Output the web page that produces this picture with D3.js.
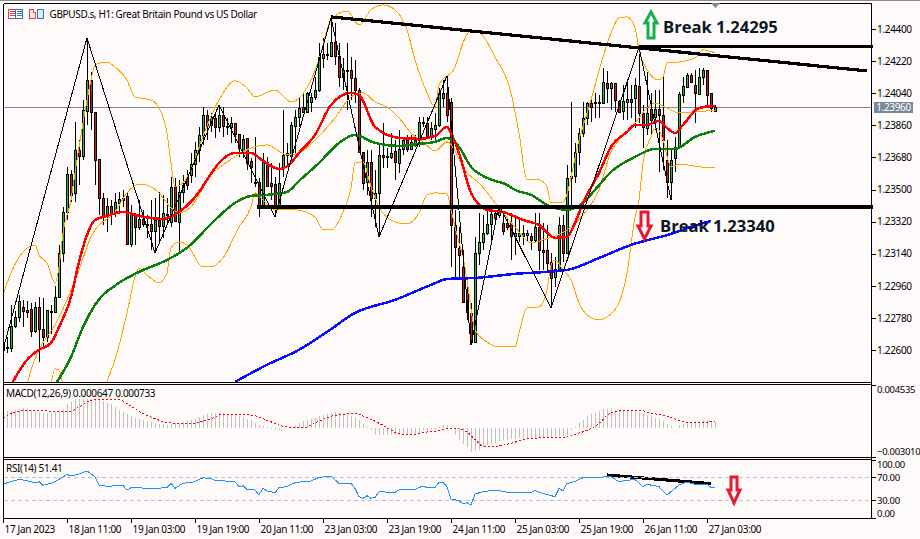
<!DOCTYPE html>
<html>
<head>
  <meta charset="utf-8">
  <title>GBPUSD.s H1</title>
  <style>
    html,body{margin:0;padding:0;background:#fffafa;}
    svg{display:block;}
    text{font-family:"Noto Sans",sans-serif;font-size:10px;letter-spacing:-0.33px;fill:#000;}
    .axis text{font-family:"Noto Sans",sans-serif;font-size:10px;}
    .macdAxis text,.rsiAxis text{font-size:9.5px;letter-spacing:-0.3px;}
    .axis path{display:none;}
    .axis line{stroke:#000;shape-rendering:crispEdges;}
    .break{font-family:"Open Sans",sans-serif;font-weight:700;font-size:16.6px;letter-spacing:0;fill:#0b1722;}
  </style>
  <script src="https://d3js.org/d3.v7.min.js"></script>
</head>
<body>
<script>
// candles, one entry per hourly bar
var opens=[1.22601,1.22617,1.22612,1.22735,1.22786,1.22842,1.22825,1.22830,1.22707,1.22842,1.22718,1.22673,1.22819,1.22814,1.22898,1.23144,1.23374,1.23587,1.23481,1.23722,1.23688,1.23941,1.24114,1.23935,1.23672,1.23453,1.23357,1.23408,1.23369,1.23425,1.23453,1.23464,1.23195,1.23357,1.23290,1.23335,1.23307,1.23307,1.23268,1.23329,1.23296,1.23363,1.23318,1.23515,1.23318,1.23486,1.23571,1.23582,1.23643,1.23722,1.23806,1.23918,1.23862,1.23901,1.23851,1.23918,1.23856,1.23851,1.23873,1.23812,1.23711,1.23789,1.23660,1.23543,1.23543,1.23402,1.23655,1.23537,1.23531,1.23402,1.23621,1.23694,1.23688,1.23856,1.23907,1.23963,1.23935,1.23991,1.24019,1.24058,1.24238,1.24260,1.24249,1.24327,1.24249,1.24131,1.24171,1.24171,1.24126,1.24058,1.23711,1.23543,1.23655,1.23453,1.23481,1.23694,1.23688,1.23683,1.23716,1.23649,1.23728,1.23778,1.23728,1.23750,1.23778,1.23879,1.23873,1.23800,1.23840,1.23862,1.24014,1.24042,1.23991,1.23301,1.23173,1.23066,1.22920,1.22808,1.22645,1.23144,1.23206,1.23257,1.23307,1.23369,1.23357,1.23313,1.23313,1.23313,1.23240,1.23240,1.23240,1.23245,1.23240,1.23217,1.23290,1.23161,1.23161,1.23094,1.23010,1.23055,1.23301,1.23144,1.23565,1.23576,1.23711,1.23817,1.23901,1.23985,1.23991,1.23985,1.23985,1.24098,1.24070,1.24098,1.23997,1.23941,1.23991,1.24008,1.24014,1.24081,1.23929,1.23845,1.23952,1.23907,1.23952,1.23918,1.23666,1.23543,1.23677,1.23739,1.24030,1.24075,1.24142,1.24086,1.24036,1.24131,1.24171,1.24042,1.23941];
var highs=[1.22685,1.22673,1.22853,1.22819,1.22909,1.22881,1.22875,1.22864,1.22870,1.22898,1.22892,1.22825,1.22853,1.22959,1.23189,1.23402,1.23627,1.23610,1.23879,1.23778,1.24002,1.24350,1.24159,1.23935,1.23672,1.23481,1.23453,1.23442,1.23481,1.23486,1.23498,1.23481,1.23414,1.23369,1.23442,1.23386,1.23357,1.23442,1.23453,1.23486,1.23470,1.23453,1.23571,1.23565,1.23554,1.23582,1.23610,1.23705,1.23767,1.23851,1.23963,1.23946,1.23929,1.23929,1.23974,1.23963,1.23901,1.23907,1.23873,1.23812,1.23806,1.23789,1.23677,1.23795,1.23565,1.23705,1.23683,1.23649,1.23571,1.23649,1.23946,1.23761,1.23879,1.23946,1.24019,1.24042,1.24047,1.24042,1.24131,1.24322,1.24350,1.24322,1.24462,1.24434,1.24322,1.24238,1.24322,1.24243,1.24227,1.24070,1.23711,1.23722,1.23722,1.23610,1.23750,1.23873,1.23733,1.23817,1.23778,1.23834,1.23789,1.23806,1.23806,1.23806,1.23907,1.23907,1.23907,1.23879,1.23929,1.24070,1.24114,1.24137,1.24014,1.23386,1.23290,1.23161,1.22976,1.22864,1.23234,1.23369,1.23357,1.23386,1.23386,1.23386,1.23414,1.23374,1.23346,1.23369,1.23346,1.23329,1.23301,1.23273,1.23257,1.23369,1.23369,1.23313,1.23301,1.23144,1.23122,1.23346,1.23357,1.23638,1.23991,1.23761,1.23845,1.23991,1.23991,1.24002,1.24042,1.24030,1.24182,1.24165,1.24103,1.24098,1.24002,1.24086,1.24114,1.24086,1.24126,1.24299,1.23974,1.24159,1.24042,1.24058,1.24058,1.24142,1.23778,1.23733,1.23795,1.24047,1.24131,1.24154,1.24154,1.24171,1.24182,1.24182,1.24171,1.24042,1.23974];
var lows=[1.22573,1.22584,1.22589,1.22724,1.22758,1.22729,1.22780,1.22673,1.22696,1.22533,1.22612,1.22645,1.22690,1.22808,1.22892,1.23094,1.23329,1.23430,1.23430,1.23526,1.23666,1.23862,1.23834,1.23526,1.23357,1.23301,1.23262,1.23301,1.23346,1.23374,1.23402,1.23195,1.23178,1.23189,1.23273,1.23290,1.23229,1.23161,1.23144,1.23201,1.23229,1.23301,1.23290,1.23318,1.23144,1.23425,1.23498,1.23537,1.23571,1.23655,1.23750,1.23778,1.23823,1.23789,1.23823,1.23795,1.23806,1.23761,1.23761,1.23683,1.23677,1.23610,1.23537,1.23515,1.23346,1.23397,1.23515,1.23442,1.23346,1.23397,1.23571,1.23638,1.23683,1.23705,1.23851,1.23929,1.23929,1.23935,1.24002,1.24047,1.24182,1.24227,1.24243,1.24199,1.24075,1.24058,1.23946,1.24002,1.23985,1.23705,1.23498,1.23470,1.23346,1.23290,1.23234,1.23621,1.23621,1.23672,1.23554,1.23593,1.23694,1.23711,1.23722,1.23739,1.23739,1.23851,1.23795,1.23778,1.23778,1.23851,1.23963,1.23879,1.23066,1.23010,1.23010,1.22864,1.22769,1.22629,1.22640,1.23077,1.23161,1.23245,1.23206,1.23329,1.23341,1.23245,1.23273,1.23105,1.23133,1.23206,1.23189,1.23206,1.23161,1.23206,1.23049,1.23049,1.23032,1.22836,1.22954,1.23049,1.23094,1.23144,1.23402,1.23537,1.23638,1.23795,1.23862,1.23879,1.23901,1.23901,1.23985,1.23985,1.23946,1.23935,1.23929,1.23890,1.23890,1.23901,1.23845,1.23873,1.23733,1.23806,1.23795,1.23834,1.23599,1.23610,1.23453,1.23442,1.23599,1.23739,1.23985,1.24075,1.24098,1.23873,1.24030,1.24086,1.23974,1.23935,1.23935];
var closes=[1.22629,1.22612,1.22735,1.22786,1.22875,1.22819,1.22814,1.22707,1.22842,1.22718,1.22673,1.22825,1.22814,1.22898,1.23144,1.23374,1.23587,1.23470,1.23722,1.23688,1.23946,1.24114,1.23935,1.23666,1.23453,1.23357,1.23408,1.23363,1.23430,1.23447,1.23442,1.23195,1.23363,1.23290,1.23335,1.23307,1.23301,1.23268,1.23329,1.23296,1.23369,1.23357,1.23515,1.23324,1.23486,1.23526,1.23526,1.23643,1.23722,1.23806,1.23918,1.23862,1.23907,1.23851,1.23918,1.23856,1.23851,1.23873,1.23812,1.23733,1.23784,1.23649,1.23627,1.23537,1.23397,1.23655,1.23520,1.23520,1.23397,1.23537,1.23694,1.23705,1.23862,1.23907,1.23957,1.23935,1.24042,1.24019,1.24058,1.24243,1.24260,1.24255,1.24327,1.24249,1.24131,1.24171,1.24165,1.24126,1.24058,1.23711,1.23537,1.23655,1.23453,1.23481,1.23694,1.23683,1.23683,1.23705,1.23655,1.23728,1.23778,1.23728,1.23767,1.23778,1.23879,1.23873,1.23800,1.23845,1.23862,1.24042,1.24042,1.23918,1.23301,1.23178,1.23133,1.22870,1.22814,1.22645,1.23144,1.23206,1.23257,1.23307,1.23363,1.23341,1.23386,1.23268,1.23290,1.23240,1.23257,1.23257,1.23257,1.23257,1.23217,1.23290,1.23161,1.23150,1.23088,1.23004,1.23055,1.23301,1.23144,1.23565,1.23576,1.23711,1.23817,1.23901,1.23985,1.23963,1.23985,1.23991,1.24103,1.24070,1.24098,1.24002,1.23935,1.23997,1.24008,1.23991,1.24086,1.23929,1.23851,1.23929,1.23890,1.23952,1.23918,1.23778,1.23543,1.23666,1.23739,1.24036,1.24081,1.24142,1.24103,1.24042,1.24131,1.24171,1.24030,1.23957,1.23963];

// moving averages and bollinger bands, read at the bars where the curves bend
var redBars=[2,6,9,12,14,17,19,21,23,26,30,34,40,44,49,51,54,58,62,65,69,72,74,78,82,87,89,93,99,104,108,111,112,114,117,119,121,125,130,134,138,141,143,145,149,152,156,158,161,164,166,168,170,174,178];
var redVals=[1.22404,1.22545,1.22601,1.22640,1.22729,1.22898,1.23094,1.23245,1.23329,1.23352,1.23374,1.23352,1.23335,1.23374,1.23486,1.23554,1.23649,1.23705,1.23705,1.23660,1.23615,1.23649,1.23705,1.23806,1.23974,1.24042,1.24030,1.23851,1.23789,1.23784,1.23800,1.23851,1.23817,1.23705,1.23481,1.23414,1.23386,1.23374,1.23329,1.23301,1.23229,1.23234,1.23313,1.23425,1.23593,1.23739,1.23823,1.23862,1.23862,1.23885,1.23845,1.23817,1.23862,1.23957,1.23969];
var greenBars=[13,17,20,23,29,34,41,46,53,58,62,66,71,74,79,84,88,93,99,104,108,111,114,117,121,126,128,132,137,141,145,148,152,158,163,168,173,178];
var greenVals=[1.22404,1.22561,1.22729,1.22853,1.22976,1.23038,1.23105,1.23173,1.23329,1.23425,1.23464,1.23470,1.23486,1.23548,1.23649,1.23761,1.23806,1.23761,1.23744,1.23756,1.23767,1.23789,1.23739,1.23627,1.23565,1.23526,1.23498,1.23470,1.23402,1.23386,1.23425,1.23498,1.23599,1.23683,1.23728,1.23728,1.23795,1.23829];
var blueBars=[58,66,74,81,88,98,107,111,118,128,141,149,157,167,172,177];
var blueVals=[1.22421,1.22517,1.22601,1.22701,1.22808,1.22881,1.22965,1.22998,1.23004,1.23027,1.23049,1.23116,1.23189,1.23251,1.23290,1.23324];
var upperBars=[0,2,5,7,8,9,11,13,14,15,17,18,20,22,23,26,28,31,33,37,39,41,42,43,47,49,54,58,61,63,68,72,76,79,82,86,89,92,95,98,101,103,106,108,109,113,115,117,119,123,127,129,131,134,136,137,140,144,147,150,152,154,156,158,159,161,164,165,166,169,173,175,178];
var upperVals=[1.22909,1.23032,1.23150,1.23184,1.23189,1.23133,1.23088,1.22976,1.23066,1.23257,1.23442,1.23593,1.23873,1.24114,1.24199,1.24215,1.24187,1.24114,1.24019,1.24002,1.23957,1.23817,1.23649,1.23515,1.23610,1.23739,1.24002,1.24109,1.24070,1.24019,1.24058,1.23991,1.24070,1.24227,1.24451,1.24501,1.24423,1.24507,1.24535,1.24507,1.24395,1.24227,1.24042,1.23963,1.24086,1.24187,1.24322,1.24395,1.24384,1.24243,1.24042,1.23817,1.23554,1.23554,1.23515,1.23425,1.23430,1.23778,1.24002,1.24243,1.24378,1.24462,1.24468,1.24406,1.24283,1.24171,1.24114,1.24131,1.24210,1.24215,1.24238,1.24283,1.24266];
var middleBars=[6,7,9,13,16,19,22,23,28,31,34,37,39,42,44,47,49,52,55,60,62,66,71,74,78,83,87,90,93,96,99,102,105,108,111,116,119,124,128,132,135,141,145,149,152,154,158,161,163,166,169,178];
var middleVals=[1.22404,1.22489,1.22601,1.22741,1.22881,1.23049,1.23234,1.23273,1.23374,1.23481,1.23531,1.23515,1.23481,1.23397,1.23369,1.23402,1.23470,1.23582,1.23638,1.23711,1.23733,1.23750,1.23694,1.23705,1.23778,1.23901,1.24019,1.24042,1.23991,1.23963,1.23901,1.23817,1.23767,1.23716,1.23767,1.23593,1.23537,1.23397,1.23290,1.23201,1.23217,1.23273,1.23357,1.23498,1.23711,1.23778,1.23873,1.23957,1.23985,1.23957,1.23929,1.23946];
var lowerBars=[12,13,14,15,16,25,26,28,31,33,34,36,39,41,42,44,46,50,52,55,59,62,63,65,68,73,78,80,82,85,87,88,90,92,94,98,101,104,106,108,111,112,114,115,116,118,121,124,128,129,131,134,136,137,138,140,142,144,146,149,151,154,156,158,159,160,162,163,164,165,167,169,174,178];
var lowerVals=[1.22404,1.22494,1.22489,1.22404,1.22348,1.22348,1.22421,1.22545,1.22808,1.23010,1.23060,1.23021,1.22976,1.23032,1.23173,1.23206,1.23189,1.23066,1.23066,1.23116,1.23290,1.23402,1.23481,1.23442,1.23386,1.23386,1.23346,1.23273,1.23273,1.23374,1.23509,1.23649,1.23655,1.23515,1.23402,1.23318,1.23307,1.23369,1.23470,1.23481,1.23475,1.23386,1.23201,1.23122,1.22993,1.22713,1.22645,1.22617,1.22617,1.22696,1.22836,1.22842,1.22937,1.23077,1.23105,1.23049,1.22993,1.22864,1.22797,1.22769,1.22786,1.22864,1.23032,1.23346,1.23442,1.23649,1.23795,1.23845,1.23834,1.23778,1.23627,1.23643,1.23627,1.23621];
// zigzag through the swing highs and lows
var zigBars=[0,21,38,54,68,82,94,111,117,124,137,159,167];
var zigVals=[1.22601,1.24350,1.23144,1.23974,1.23346,1.24462,1.23234,1.24137,1.22629,1.23414,1.22836,1.24299,1.23442];

// macd histogram per bar, signal read at its bends
var macdHist=[.001231,.001794,.001794,.001934,.002040,.002075,.002040,.001864,.001759,.001688,.001618,.001583,.001583,.001653,.001864,.002040,.002497,.002743,.003025,.003025,.003025,.003025,.003025,.003025,.003025,.002849,.002638,.002497,.002216,.001934,.001688,.001442,.001266,.001090,.000914,.000809,.000739,.000598,.000528,.000422,.000387,.000352,.000457,.000492,.000528,.000633,.000703,.000809,.000985,.001161,.001336,.001477,.001547,.001583,.001618,.001547,.001512,.001407,.001407,.001301,.001161,.000985,.000809,.000528,.000352,.000211,.000106,-.000070,-.000176,-.000176,.000010,.000035,.000176,.000281,.000563,.000739,.000879,.000950,.001020,.001266,.001407,.001512,.001618,.001653,.001618,.001512,.001407,.001231,.001055,.000809,.000457,.000106,-.000246,-.000703,-.000703,-.000703,-.000774,-.000774,-.000774,-.000774,-.000703,-.000703,-.000668,-.000598,-.000492,-.000246,-.000246,-.000246,-.000246,.000106,.000281,.000281,.000010,-.000774,-.001231,-.001653,-.002005,-.002532,-.002427,-.002286,-.002005,-.001829,-.001653,-.001547,-.001407,-.001301,-.001231,-.001196,-.001161,-.001055,-.001020,-.001020,-.001020,-.001020,-.001020,-.001020,-.000950,-.000950,-.000879,-.000879,-.000879,-.000774,-.000246,.000106,.000633,.000879,.001231,.001442,.001618,.001794,.001970,.002040,.002040,.001934,.001864,.001864,.001794,.001794,.001794,.001688,.001512,.001336,.001231,.001090,.000914,.000739,.000457,.000176,.000035,.000281,.000457,.000528,.000633,.000703,.000739,.000844,.000809,.000739,.000647];
var signalBars=[0,2,4,6,10,13,17,19,22,24,27,29,32,35,38,41,46,49,52,55,62,66,71,75,79,83,88,91,95,99,102,106,108,110,113,116,118,120,123,126,129,131,136,141,143,146,149,151,154,159,162,166,169,171,174,178];
var signalVals=[.000985,.001512,.001759,.001829,.001829,.001723,.001794,.002216,.002919,.003025,.003025,.002989,.002286,.001512,.000985,.000563,.000457,.000598,.000985,.001442,.001372,.000809,.000106,.000035,.000739,.001336,.001512,.001090,.000281,-.000598,-.000703,-.000422,-.000352,-.000141,-.000070,-.000422,-.001231,-.001899,-.001934,-.001723,-.001372,-.001125,-.001020,-.000950,-.000668,-.000246,.000457,.001336,.001794,.001864,.001583,.001231,.000809,.000563,.000563,.000733];

// rsi read at its bends
var rsiBars=[0,2,4,6,8,9,10,12,14,16,17,19,21,23,24,26,30,31,32,34,37,41,42,43,45,48,50,52,53,58,59,60,61,63,64,65,66,68,69,71,73,76,77,79,82,84,87,88,89,90,91,92,93,94,97,98,99,103,105,106,108,109,110,111,112,114,115,116,117,118,120,123,124,125,127,132,133,135,138,139,140,141,143,145,150,152,154,155,158,160,161,164,166,169,171,173,176,177,178];
var rsiVals=[58.2,62.3,66.3,64,60.5,62.3,55.9,59.4,66.3,75,72.1,75.6,80.8,71,56.5,54.2,55.9,47.8,51.9,51.9,49.5,52.4,59.4,50.7,59.4,62.3,69.2,67.5,64.6,62.3,53.6,55.3,48.9,47.8,39.1,50.7,46,43.2,51.9,53.6,60.5,63.4,63.4,69.8,71.6,59.4,59.4,50.7,36.2,33.3,38,33.3,35,44.9,43.7,43.7,47.8,48.9,54.8,51.9,52.4,61.1,60.5,53.6,32.1,29.2,23.4,25.8,21.7,40.8,44.9,47.8,47.2,44.9,43.2,43.2,46.6,42,36.2,50.7,46,59.4,62.3,69.2,70.4,71,62.3,63.4,66.3,53.6,57.7,53.6,39.1,56.5,61.7,57.7,57.7,52.4,51.41];
var rsiLevels=[70,30];

// axis labels
var priceTicks=[1.244,1.2422,1.2404,1.2386,1.2368,1.235,1.2332,1.2314,1.2296,1.2278,1.226];
var macdTicks=[0.004535,-0.00301];
var rsiTicks=[100,70,30,0];
var timeBars=[0,16,32,48,64,80,96,112,128,144,160,176];
var timeLabels=['17 Jan 2023','18 Jan 11:00','19 Jan 03:00','19 Jan 19:00','20 Jan 11:00','23 Jan 03:00','23 Jan 19:00','24 Jan 11:00','25 Jan 03:00','25 Jan 19:00','26 Jan 11:00','27 Jan 03:00'];
var lastPrice=1.2396;
var breakUp=1.243, breakDown=1.23402;

var width=920,height=539;
var svg=d3.select('body').append('svg').attr('width',width).attr('height',height);
svg.append('rect').attr('width',width).attr('height',height).attr('fill','#fffafa');

// all panes share the same bar scale: 4px a bar
var x=d3.scaleLinear().domain([0,178]).range([3,715]);
var y=d3.scaleLinear().domain([1.226,1.244]).range([350,29]);
var yMacd=d3.scaleLinear().domain([-0.00301,0.004535]).range([456.5,385]);
var yRsi=d3.scaleLinear().domain([0,100]).range([517.5,460]);

var defs=svg.append('defs');
function clip(id,top,bottom){
  defs.append('clipPath').attr('id',id).append('rect').attr('x',4).attr('y',top).attr('width',867).attr('height',bottom-top);
}
clip('mainClip',4,382);
clip('macdClip',385,457);
clip('rsiClip',460,518);

var main=svg.append('g').attr('clip-path','url(#mainClip)');
var bars=d3.range(opens.length);

// thin grey last price line goes under the candles
main.append('line').attr('x1',3).attr('x2',871).attr('y1',Math.floor(y(lastPrice))+0.5).attr('y2',Math.floor(y(lastPrice))+0.5)
  .attr('stroke','#7f8a96').attr('shape-rendering','crispEdges');

// wicks
main.selectAll('.wick').data(bars).enter().append('line')
  .attr('x1',d=>x(d)+0.5).attr('x2',d=>x(d)+0.5)
  .attr('y1',d=>y(highs[d])).attr('y2',d=>y(lows[d]))
  .attr('stroke','#000').attr('shape-rendering','crispEdges');
// bodies
main.selectAll('.body').data(bars).enter().append('rect')
  .attr('x',d=>x(d)-0.5).attr('width',2)
  .attr('y',d=>Math.round(y(Math.max(opens[d],closes[d])))+0.5)
  .attr('height',d=>Math.max(0,Math.round(y(Math.min(opens[d],closes[d])))-Math.round(y(Math.max(opens[d],closes[d])))))
  .attr('fill',d=>closes[d]>=opens[d]?'#22c02a':'#d01818')
  .attr('stroke','#000').attr('shape-rendering','crispEdges');

var priceLine=function(b,v){
  return d3.line().x(d=>x(d)).y((d,i)=>y(v[i])).curve(d3.curveMonotoneX)(b);
};
function drawCurve(b,v,col,w){
  main.append('path').attr('d',priceLine(b,v)).attr('fill','none').attr('stroke',col).attr('stroke-width',w).attr('shape-rendering','crispEdges');
}
drawCurve(upperBars,upperVals,'#ffa500',1);
drawCurve(middleBars,middleVals,'#ffa500',1);
drawCurve(lowerBars,lowerVals,'#ffa500',1);
drawCurve(blueBars,blueVals,'#0a0aff',2.5);
drawCurve(greenBars,greenVals,'#0a800a',2.5);
drawCurve(redBars,redVals,'#ff0000',2.5);

// zigzag
main.append('path')
  .attr('d',d3.line().x(d=>x(d)).y((d,i)=>y(zigVals[i]))(zigBars))
  .attr('fill','none').attr('stroke','#000').attr('stroke-width',1).attr('shape-rendering','crispEdges');

// hand drawn trendlines, these run out over the price axis a bit
var over=svg.append('g');
function thick(b1,v1,b2,v2,yy){
  over.append('line').attr('x1',x(b1)).attr('x2',x(b2)).attr('y1',yy(v1)).attr('y2',yy(v2))
    .attr('stroke','#000').attr('stroke-width',3.2).attr('shape-rendering','crispEdges');
}
thick(82,1.24468,216,1.24165,y);
thick(159,breakUp,217.5,breakUp,y);
thick(63.5,breakDown,217.5,breakDown,y);

// macd pane
var macd=svg.append('g').attr('clip-path','url(#macdClip)');
macd.selectAll('rect').data(macdHist).enter().append('rect')
  .attr('x',(d,i)=>x(i)).attr('width',1)
  .attr('y',d=>Math.min(yMacd(d),yMacd(0))).attr('height',d=>Math.abs(yMacd(d)-yMacd(0)))
  .attr('fill','#c0c0c0').attr('shape-rendering','crispEdges');
macd.append('path')
  .attr('d',d3.line().x(d=>x(d)).y((d,i)=>yMacd(signalVals[i])).curve(d3.curveMonotoneX)(signalBars))
  .attr('fill','none').attr('stroke','#ff0000').attr('stroke-width',1).attr('stroke-dasharray','2,2').attr('shape-rendering','crispEdges');

// rsi pane
var rsi=svg.append('g').attr('clip-path','url(#rsiClip)');
rsi.selectAll('line').data(rsiLevels).enter().append('line')
  .attr('x1',4).attr('x2',871).attr('y1',d=>Math.floor(yRsi(d))+0.5).attr('y2',d=>Math.floor(yRsi(d))+0.5)
  .attr('stroke','#c0c0c0').attr('stroke-dasharray','4,3').attr('shape-rendering','crispEdges');
rsi.append('path')
  .attr('d',d3.line().x(d=>x(d)).y((d,i)=>yRsi(rsiVals[i]))(rsiBars))
  .attr('fill','none').attr('stroke','#1e90ff').attr('stroke-width',1).attr('shape-rendering','crispEdges');
thick(151,73.9,177,58.8,yRsi);

// pane frames
var frame=svg.append('g').attr('stroke','#000').attr('shape-rendering','crispEdges');
[[3.5,3.5,3.5,518.5],[871.5,3.5,871.5,518.5],[3.5,3.5,871.5,3.5],[3.5,382.5,871.5,382.5],[3.5,384.5,871.5,384.5],[3.5,457.5,871.5,457.5],[3.5,459.5,871.5,459.5],[3.5,518.5,871.5,518.5]]
  .forEach(l=>frame.append('line').attr('x1',l[0]).attr('y1',l[1]).attr('x2',l[2]).attr('y2',l[3]));
svg.append('line').attr('x1',0).attr('x2',920).attr('y1',0.5).attr('y2',0.5).attr('stroke','#8a8a8a').attr('shape-rendering','crispEdges');

// axes
var axisX=871.5;
svg.append('g').attr('class','axis').attr('transform','translate('+axisX+',0)')
  .call(d3.axisRight(y).tickValues(priceTicks).tickSize(4).tickPadding(1.5).tickFormat(d3.format('.5f')));
svg.append('g').attr('class','axis macdAxis').attr('transform','translate('+axisX+',0)')
  .call(d3.axisRight(yMacd).tickValues(macdTicks).tickSize(4).tickPadding(1.5).tickFormat(d3.format('.6f')));
svg.append('g').attr('class','axis rsiAxis').attr('transform','translate('+axisX+',0)')
  .call(d3.axisRight(yRsi).tickValues(rsiTicks).tickSize(4).tickPadding(1.5).tickFormat(d3.format('.2f')));
// the outer labels sit inside their pane, not on their tick
d3.selectAll('.macdAxis text').attr('dy',d=>d>0?'7px':'-2.2px');
d3.selectAll('.rsiAxis text').attr('dy',d=>d==100?'7px':(d==0?'-1px':'0.32em'));

var timeAxis=svg.append('g').attr('class','axis').attr('transform','translate(0,518.5)')
  .call(d3.axisBottom(x).tickValues(timeBars).tickSize(4).tickPadding(3).tickFormat((d,i)=>timeLabels[i]));
timeAxis.selectAll('text').attr('text-anchor','start').attr('dx','1px');

// last price box
svg.append('rect').attr('x',874).attr('y',102).attr('width',39).attr('height',11).attr('fill','#778899');
svg.append('text').attr('x',893.5).attr('y',111).attr('text-anchor','middle').style('fill','#fff').text(d3.format('.5f')(lastPrice));
// shift marker
svg.append('path').attr('d','M711,3 L720,3 L715.5,8 Z').attr('fill','#778899');

// titles
svg.append('text').attr('x',49.5).attr('y',18).text('GBPUSD.s, H1:  Great Britain Pound vs US Dollar');
svg.append('text').attr('x',6).attr('y',397).text('MACD(12,26,9) 0.000647 0.000733');
svg.append('text').attr('x',6).attr('y',472).text('RSI(14) 51.41');

// toolbar icons
var ic=svg.append('g').attr('shape-rendering','crispEdges').attr('fill','#fff');
ic.append('rect').attr('x',8.5).attr('y',9.5).attr('width',7).attr('height',9).attr('stroke','#e04040');
ic.append('rect').attr('x',15.5).attr('y',9.5).attr('width',7).attr('height',9).attr('stroke','#2a78c0');
[11.5,13.5,15.5].forEach(v=>{
  ic.append('line').attr('x1',10).attr('x2',15).attr('y1',v).attr('y2',v).attr('stroke','#e04040');
  ic.append('line').attr('x1',17).attr('x2',22).attr('y1',v).attr('y2',v).attr('stroke','#2a78c0');
});
ic.append('path').attr('d','M29.5,9.5 H33.5 V12.5 H35.5 V18.5 H29.5 Z').attr('stroke','#e04040').attr('fill','#fdeaea');
ic.append('path').attr('d','M37.5,9.5 H43.5 V18.5 H37.5 Z').attr('stroke','#2a78c0').attr('fill','#d8e9f8');

// arrows
function arrow(points,col){
  svg.append('polygon').attr('points',points.join(' ')).attr('fill','#fffafa').attr('stroke',col).attr('stroke-width',3);
}
arrow([[651,12],[657,23],[654,23],[654,38],[648,38],[648,23],[645,23]],'#17b04f');
arrow([[641,212],[648,212],[648,226],[651,226],[644.5,239],[638,226],[641,226]],'#e8192c');
arrow([[731,477],[737,477],[737,490],[740,490],[734,503],[728,490],[731,490]],'#e8192c');

svg.append('text').attr('class','break').attr('x',663).attr('y',33).text('Break 1.24295');
svg.append('text').attr('class','break').attr('x',660).attr('y',232).text('Break 1.23340');
</script>
</body>
</html>
